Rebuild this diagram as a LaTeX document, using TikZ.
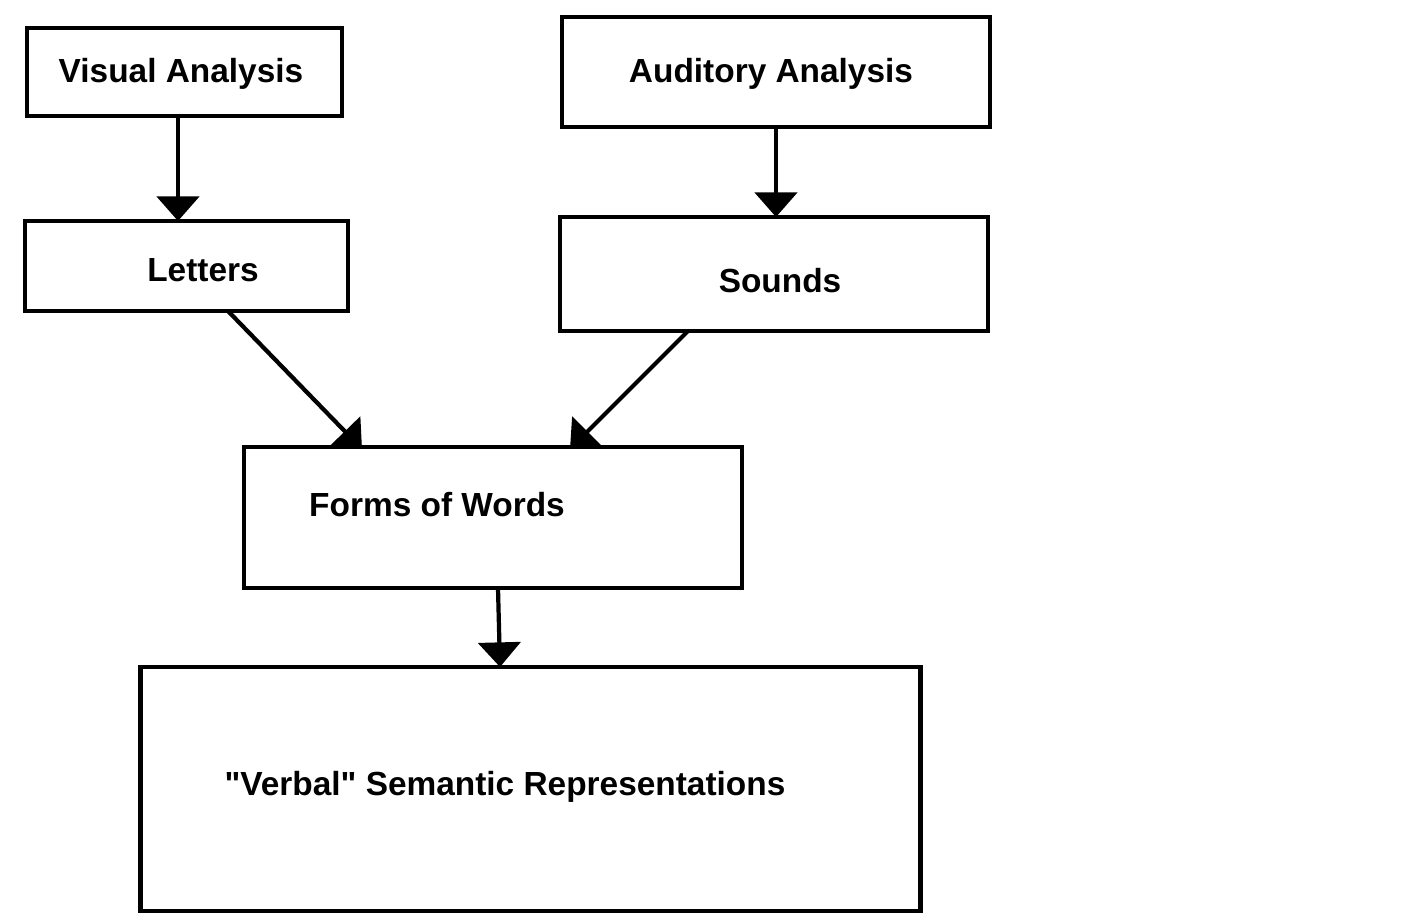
\documentclass[tikz,border=0pt]{standalone}
\usepackage{fontspec}
\setmainfont{Liberation Sans}
\usetikzlibrary{arrows.meta}
\begin{document}
\begin{tikzpicture}[x=0.01cm,y=-0.01cm,
  box/.style={draw,line width=1.3pt,inner sep=0pt},
  lbl/.style={font=\fontsize{9.5}{11}\selectfont\bfseries},
  arr/.style={line width=1.2pt,-{Triangle[width=12pt,length=7pt]}}]
\useasboundingbox (0,0) rectangle (1420,921);
\node[box,minimum width=3.15cm,minimum height=0.88cm] (va) at (184.5,72) {};
\node[lbl] (vat) at (181,74) {Visual Analysis};
\node[box,minimum width=4.28cm,minimum height=1.10cm] (aa) at (776,72) {};
\node[lbl] (aat) at (771,74) {Auditory Analysis};
\node[box,minimum width=3.23cm,minimum height=0.90cm] (le) at (186.5,266) {};
\node[lbl] (let) at (203,270) {Letters};
\node[box,minimum width=4.28cm,minimum height=1.14cm] (so) at (774,274) {};
\node[lbl] (sot) at (780,281) {Sounds};
\node[box,minimum width=4.98cm,minimum height=1.41cm] (fw) at (493,517.5) {};
\node[lbl] (fwt) at (437,505) {Forms of Words};
\node[box,minimum width=7.79cm,minimum height=2.44cm] (vs) at (530.5,789) {};
\node[lbl] (vst) at (505,787) {\textquotedbl Verbal\textquotedbl\ Semantic Representations};
\coordinate (a1) at (178,116); \coordinate (a2) at (178,221);
\draw[arr] (a1) -- (a2);
\coordinate (b1) at (776,127); \coordinate (b2) at (776,217);
\draw[arr] (b1) -- (b2);
\coordinate (c1) at (228,311); \coordinate (c2) at (362,449);
\draw[arr] (c1) -- (c2);
\coordinate (d1) at (688,331); \coordinate (d2) at (570,449);
\draw[arr] (d1) -- (d2);
\coordinate (e1) at (498,588); \coordinate (e2) at (500,667);
\draw[arr] (e1) -- (e2);
\end{tikzpicture}
\end{document}
